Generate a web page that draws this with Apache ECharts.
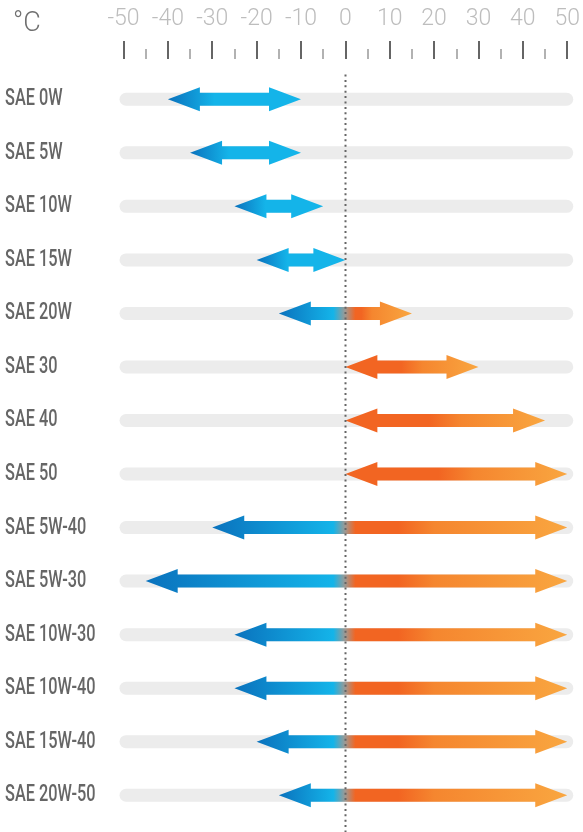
<!DOCTYPE html>
<html>
<head>
<meta charset="utf-8">
<script src="https://cdn.jsdelivr.net/npm/echarts@6/dist/echarts.min.js"></script>
<style>
html,body{margin:0;padding:0;background:#fff;}
#chart{width:583px;height:832px;}
</style>
</head>
<body>
<div id="chart"></div>
<script>
const categories = ['SAE 0W', 'SAE 5W', 'SAE 10W', 'SAE 15W', 'SAE 20W', 'SAE 30', 'SAE 40', 'SAE 50',
  'SAE 5W-40', 'SAE 5W-30', 'SAE 10W-30', 'SAE 10W-40', 'SAE 15W-40', 'SAE 20W-50'];
const minTemp = [-40, -35, -25, -20, -15, 0, 0, 0, -30, -45, -25, -25, -20, -15];
const maxTemp = [-10, -10, -5, 0, 15, 30, 45, 50, 50, 50, 50, 50, 50, 50];
const tempTicks = [-50, -40, -30, -20, -10, 0, 10, 20, 30, 40, 50];
const unitLabel = '°C';

const DARK_BLUE = '#0a72bd', CYAN = '#14b4e9', MID = '#a09891',
      RED_OR = '#f26522', MID_OR = '#f5862f', LIGHT_OR = '#f9a640';

const rangeData = categories.map((c, i) => [i, minTemp[i], maxTemp[i]]);

function arrowFill(L, R, Z) {
  const W = R - L;
  const f = px => Math.max(0, Math.min(1, (px - L) / W));
  let stops;
  if (R <= Z + 0.5) {
    stops = [[0, DARK_BLUE], [0.35, CYAN], [1, CYAN]];
  } else if (L >= Z - 0.5) {
    stops = [[0, RED_OR], [0.42, RED_OR], [0.58, MID_OR], [1, LIGHT_OR]];
  } else {
    const O = R - Z;
    stops = [[0, DARK_BLUE], [f(Z - 12), CYAN], [f(Z), MID], [f(Z + 10), RED_OR],
      [f(Z + Math.max(14, 0.24 * O)), RED_OR], [f(Z + Math.max(24, 0.4 * O)), MID_OR], [1, LIGHT_OR]];
  }
  return {
    type: 'linear', x: L, y: 0, x2: R, y2: 0, global: true,
    colorStops: stops.map(s => ({ offset: s[0], color: s[1] }))
  };
}

const chart = echarts.init(document.getElementById('chart'));
chart.setOption({
  animation: false,
  backgroundColor: '#fff',
  title: {
    text: unitLabel, left: 8, top: 6,
    textStyle: { fontFamily: 'Roboto', fontWeight: 300, fontSize: 27, color: '#6f6f6f' }
  },
  grid: { left: 123.5, right: 13, top: 72.5, bottom: 10, containLabel: false },
  xAxis: {
    type: 'value', position: 'top', min: -50, max: 50, interval: 10, offset: 13.5,
    axisLine: { show: false },
    splitLine: { show: false },
    axisTick: { show: true, length: 18, lineStyle: { color: '#333', width: 1.5 } },
    minorTick: { show: true, splitNumber: 2, length: 10, lineStyle: { color: '#999', width: 1.5 } },
    axisLabel: {
      margin: 28, color: '#bdbdbd', fontFamily: 'Roboto', fontWeight: 300, fontSize: 23,
      formatter: v => tempTicks.includes(v) ? String(v) : ''
    }
  },
  yAxis: {
    type: 'category', data: categories, inverse: true,
    axisLine: { show: false }, axisTick: { show: false }, splitLine: { show: false },
    axisLabel: { show: false }
  },
  series: [
    {
      type: 'custom', name: 'labels', silent: true,
      data: rangeData, encode: { x: [1, 2], y: 0 },
      renderItem: function (params, api) {
        const i = api.value(0);
        const y = api.coord([0, i])[1];
        return {
          type: 'text', x: 5, y: y, scaleX: 0.68, originX: 0,
          style: {
            text: categories[i], fill: '#666', fontFamily: 'Roboto', fontWeight: 500, fontSize: 24,
            align: 'left', verticalAlign: 'middle'
          }
        };
      }
    },
    {
      type: 'custom', name: 'track', silent: true,
      data: rangeData, encode: { x: [1, 2], y: 0 },
      renderItem: function (params, api) {
        const cs = params.coordSys;
        const y = api.coord([0, api.value(0)])[1];
        const h = 13;
        return {
          type: 'rect',
          shape: { x: cs.x - 4, y: y - h / 2, width: cs.width + 10, height: h, r: h / 2 },
          style: { fill: '#ececec' }
        };
      }
    },
    {
      type: 'custom', name: 'range', silent: true,
      data: rangeData, encode: { x: [1, 2], y: 0 },
      renderItem: function (params, api) {
        const i = api.value(0);
        const pL = api.coord([api.value(1), i]);
        const pR = api.coord([api.value(2), i]);
        const Z = api.coord([0, i])[0];
        const L = pL[0], R = pR[0], y = pL[1];
        const hl = 32, hh = 12, sh = 6.5;
        const pts = [[L, y], [L + hl, y - hh], [L + hl, y - sh], [R - hl, y - sh], [R - hl, y - hh],
          [R, y], [R - hl, y + hh], [R - hl, y + sh], [L + hl, y + sh], [L + hl, y + hh]];
        return { type: 'polygon', shape: { points: pts }, style: { fill: arrowFill(L, R, Z) } };
      }
    },
    {
      type: 'custom', name: 'zero', silent: true, z: 5,
      data: [[0, 0]], encode: { x: 0, y: 1 },
      renderItem: function (params, api) {
        const x = Math.round(api.coord([api.value(0), 0])[0]) + 0.5;
        const cs = params.coordSys;
        return {
          type: 'line',
          shape: { x1: x, y1: cs.y + 2, x2: x, y2: api.getHeight() },
          style: { stroke: '#666', lineWidth: 2, lineDash: [2, 3.4] }
        };
      }
    }
  ]
});
</script>
</body>
</html>
